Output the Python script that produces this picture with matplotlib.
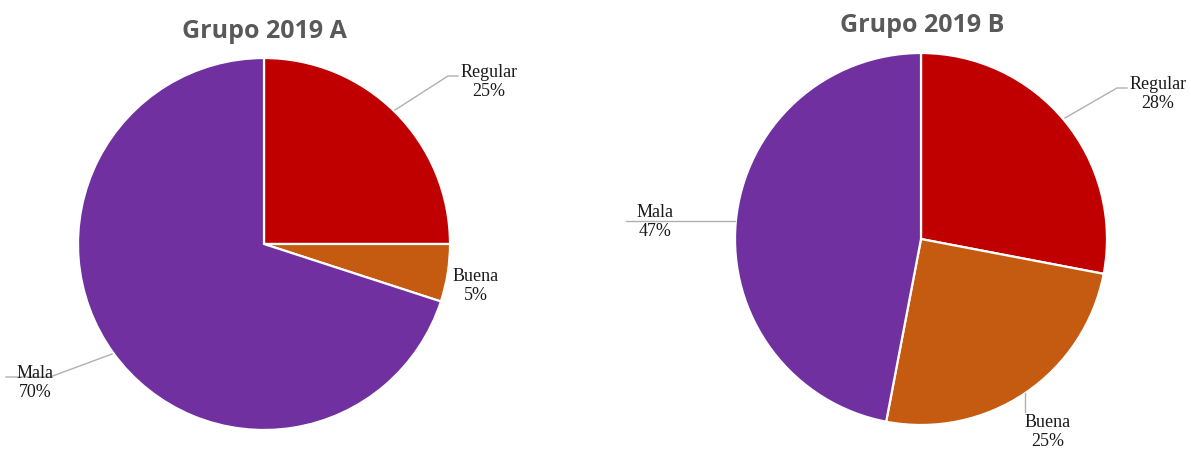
import matplotlib
matplotlib.use("Agg")
import matplotlib.pyplot as plt

categories = ["Regular", "Buena", "Mala"]
values_a = [25, 5, 70]
values_b = [28, 25, 47]
titles = ["Grupo 2019 A", "Grupo 2019 B"]
colors = ["#C00000", "#C55A11", "#7030A0"]

W, H = 1191, 450
fig = plt.figure(figsize=(W / 100, H / 100), dpi=100)
ax = fig.add_axes([0, 0, 1, 1])
ax.set_xlim(0, W)
ax.set_ylim(0, H)
ax.set_aspect("equal")
ax.axis("off")

def Y(y):
    return H - y

R = 186
centers = [(264, 244), (921, 239)]
title_pos = [(264, 31), (922, 26)]

# label block centres and leader lines (pixel coords, top-left origin)
label_pos = [
    [(489, 82), (476, 286), (35, 383)],
    [(1158, 94), (1048, 432), (655, 222)],
]
leaders = [
    [[(395, 110), (448, 76), (458, 76)], None, [(112, 354), (50, 377), (6, 377)]],
    [[(1065, 118), (1117, 88), (1127, 88)], [(1025, 393), (1025, 412)], [(735, 221), (626, 221)]],
]

serif = ["Liberation Serif", "DejaVu Serif"]

for i, vals in enumerate([values_a, values_b]):
    cx, cy = centers[i]
    ax.pie(vals, colors=colors, startangle=90, counterclock=False,
           center=(cx, Y(cy)), radius=R, frame=True,
           wedgeprops=dict(edgecolor="white", linewidth=1.6))
    tx, ty = title_pos[i]
    ax.text(tx, Y(ty), titles[i], ha="center", va="center", fontsize=18,
            fontweight="bold", color="#595959", family=["Open Sans", "DejaVu Sans"])
    for j, cat in enumerate(categories):
        lead = leaders[i][j]
        if lead is not None:
            ax.plot([p[0] for p in lead], [Y(p[1]) for p in lead],
                    color="#B0B0B0", lw=1.0, zorder=1)
        lx, ly = label_pos[i][j]
        ax.text(lx, Y(ly), f"{cat}\n{vals[j]}%", ha="center", va="center",
                fontsize=13, family=serif, color="#1a1a1a", linespacing=1.1,
                zorder=3)

ax.set_xlim(0, W)
ax.set_ylim(0, H)
fig.savefig("out.png", dpi=100)
